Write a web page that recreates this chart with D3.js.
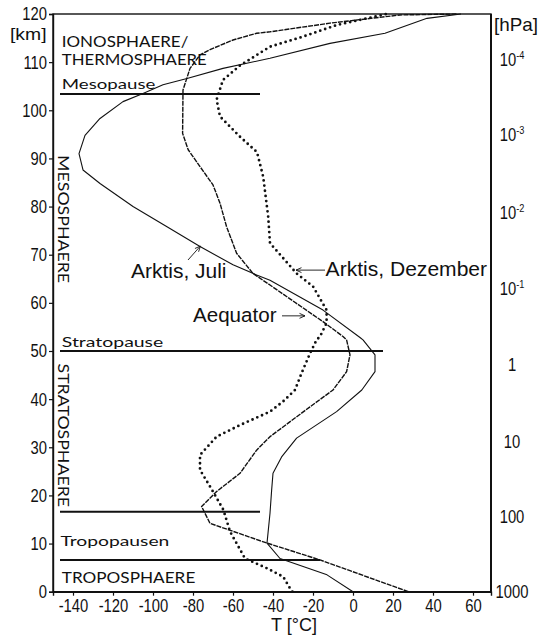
<!DOCTYPE html>
<html>
<head>
<meta charset="utf-8">
<script src="https://cdn.jsdelivr.net/npm/d3@7"></script>
<style>
  html, body { margin: 0; padding: 0; background: #fff; }
  svg { display: block; }
  .num { font-family: "Liberation Sans", Arial, sans-serif; }
  .sans { font-family: "Liberation Sans", Arial, sans-serif; }
  .zone { font-family: Lato, "DejaVu Sans", sans-serif; }
</style>
</head>
<body>
<svg id="chart" width="541" height="635"></svg>
<script>
// Temperature profiles: [temperature °C, altitude km]
const arktisJuli = [
  [0, 0], [-13, 3.5], [-36.5, 6.9], [-43, 10.1], [-41.5, 16.3], [-40.7, 21], [-40, 24.6],
  [-35.7, 28], [-28.2, 31.9], [-8.2, 37.4], [4.4, 41.9], [11, 45.7], [11, 49.2], [5, 52.3],
  [3.5, 52.8], [-15, 58.5], [-41.5, 64.7], [-48.2, 65.8], [-60, 67.9], [-76.5, 71.7],
  [-93, 75.8], [-110, 80], [-126.5, 84.8], [-135, 87.6], [-137, 91], [-134, 94.8],
  [-126.5, 98.3], [-115, 101.8], [-105, 103.5], [-95, 105.3], [-83, 106.6], [-65, 108.7],
  [-41.5, 110.8], [-11.5, 113.9], [16, 116], [37, 119.1], [54, 120]
];
const aequator = [
  [27.7, 0], [-16.5, 6.6], [-43, 10.1], [-71.5, 14.2], [-75.7, 17.7], [-68.2, 20.8],
  [-56.5, 24.6], [-48.2, 29.4], [-41.5, 32.2], [-21.5, 38.4], [-10, 41.9], [-3.2, 45.7],
  [-1.5, 49.2], [-3.2, 52.3], [-5, 53], [-14, 55.8], [-41.5, 63.7], [-50, 66.1],
  [-58.2, 70.3], [-63.2, 75.8], [-66.5, 80.7], [-70, 84.5], [-76.5, 88.3], [-82.4, 91.8],
  [-85.2, 95.2], [-85, 104.2], [-81.5, 108.7], [-76.5, 111.5], [-71.5, 112.6], [-60, 114.6],
  [-48.2, 116], [-41.5, 116.3], [-11.5, 118.1], [23.5, 119.8], [52, 120]
];
const arktisDezember = [
  [-30.3, 0], [-31.5, 0.7], [-34.9, 3.1], [-43.2, 4.9], [-54, 6.9], [-61.5, 12.5],
  [-64.8, 17], [-71, 21.5], [-76.5, 25.3], [-76.5, 28.4], [-68.2, 32.2], [-56.5, 34.6],
  [-41.5, 37.4], [-35, 39.5], [-29, 41.9], [-25.7, 45.4], [-21.5, 49.5], [-18.2, 52.3],
  [-16.5, 53], [-13.2, 55.8], [-13.2, 58.5], [-20, 63.4], [-28.2, 66.1], [-41.5, 72.4],
  [-42.4, 77.9], [-44.9, 86.2], [-48, 91.3], [-56.5, 94.5], [-66.5, 98.7], [-68.2, 102.2],
  [-65, 106.3], [-56.5, 109.3], [-41.5, 113.2], [-25, 115.3], [-8.2, 117.7], [16.8, 120]
];

// Axis ticks
const kmTicks = [0, 10, 20, 30, 40, 50, 60, 70, 80, 90, 100, 110, 120];
const tempTicks = [-140, -120, -100, -80, -60, -40, -20, 0, 20, 40, 60];

// Pressure scale on the right (altitude in km where each label sits)
const pressureKm   = [110.6, 95, 78.9, 63, 47.3, 31.3, 15.6, 0];
const pressureBase = ["10", "10", "10", "10", "1", "10", "100", "1000"];
const pressureExp  = ["-4", "-3", "-2", "-1", "", "", "", ""];

// Layer boundaries: [altitude km, T from, T to]
const boundaries = [
  [103.4, -146.5, -46.5],
  [50, -146.5, 15],
  [16.6, -146.5, -46.5],
  [6.6, -146.5, -16.5]
];

// Layer names: [text, T, km, size, width, rotated]
const zoneLabels = [
  ["IONOSPHAERE/", -145.6, 113.2, 15.5, 126.5, false],
  ["THERMOSPHAERE", -145.6, 109.5, 15.5, 145, false],
  ["Mesopause", -145.6, 104.4, 13.5, 93.5, false],
  ["Stratopause", -145.6, 50.8, 13.5, 101.5, false],
  ["Tropopausen", -146.3, 9.4, 14, 109, false],
  ["TROPOSPHAERE", -145.6, 1.75, 14.5, 133.5, false],
  ["MESOSPHAERE", -147.3, 90.7, 15.5, 128, true],
  ["STRATOSPHAERE", -147.3, 47.4, 15.5, 143.5, true]
];

// Curve names with leader arrows: [text, T, km, width, arrowFrom[T,km], arrowTo[T,km]]
const curveLabels = [
  ["Arktis, Juli", -111, 65.2, 95.5, [-82.5, 68.9], [-76.3, 71.8]],
  ["Arktis, Dezember", -13.7, 65.5, 161.5, [-14, 66.8], [-28.5, 66.8]],
  ["Aequator", -80, 56.1, 83.5, [-35.5, 57.3], [-24, 57.3]]
];

const W = 541, H = 635;
const x = d3.scaleLinear().domain([-150, 69]).range([53, 491]);
const y = d3.scaleLinear().domain([0, 120]).range([591.7, 14]);
const ink = "#111";
const squeeze = 0.8;   // condensed look for numerals
const numSize = 18.5;

const svg = d3.select("#chart");

// Frame
svg.append("rect")
  .attr("x", x(-150)).attr("y", y(120))
  .attr("width", x(69) - x(-150)).attr("height", y(0) - y(120))
  .attr("fill", "none").attr("stroke", ink).attr("stroke-width", 1.4);
svg.append("line")
  .attr("x1", x(69)).attr("x2", x(69)).attr("y1", y(120)).attr("y2", y(0))
  .attr("stroke", ink).attr("stroke-width", 2);

// Left altitude axis
const yAxis = d3.axisLeft(y).tickValues(kmTicks).tickSize(4).tickPadding(3);
const gy = svg.append("g").attr("transform", `translate(${x(-150)},0)`).call(yAxis);
gy.select(".domain").attr("stroke", ink).attr("stroke-width", 1.4);
gy.selectAll(".tick line").attr("stroke", ink).attr("stroke-width", 1.2);
gy.selectAll(".tick text").attr("class", "num").attr("font-size", numSize).attr("fill", ink)
  .attr("x", -6 / squeeze).attr("transform", `scale(${squeeze},1)`);

// Bottom temperature axis
const xAxis = d3.axisBottom(x).tickValues(tempTicks).tickSize(4).tickPadding(3)
  .tickFormat(d => d < 0 ? "-" + Math.abs(d) : String(d));
const gx = svg.append("g").attr("transform", `translate(0,${y(0)})`).call(xAxis);
gx.select(".domain").attr("stroke", ink).attr("stroke-width", 1.4);
gx.selectAll(".tick line").attr("stroke", ink).attr("stroke-width", 1.2);
gx.selectAll(".tick text").attr("class", "num").attr("font-size", numSize).attr("fill", ink)
  .attr("transform", `scale(${squeeze},1)`);

// Axis titles
svg.append("text").attr("class", "sans").attr("x", 46.5).attr("y", 40)
  .attr("text-anchor", "end").attr("font-size", 17).attr("fill", ink)
  .attr("textLength", 36.5).attr("lengthAdjust", "spacingAndGlyphs").text("[km]");
svg.append("text").attr("class", "sans").attr("x", 494).attr("y", 31)
  .attr("font-size", 18.5).attr("fill", ink)
  .attr("textLength", 44).attr("lengthAdjust", "spacingAndGlyphs").text("[hPa]");
svg.append("text").attr("class", "sans").attr("x", 294).attr("y", 631)
  .attr("text-anchor", "middle").attr("font-size", 18).attr("fill", ink).text("T [°C]");

// Pressure labels
pressureKm.forEach((km, i) => {
  const t = svg.append("text").attr("class", "num")
    .attr("transform", `translate(512,${y(km)}) scale(${squeeze},1)`)
    .attr("dy", "0.36em")
    .attr("text-anchor", "middle").attr("font-size", numSize).attr("fill", ink);
  t.append("tspan").text(pressureBase[i]);
  if (pressureExp[i]) {
    t.append("tspan").attr("font-size", 11.5).attr("dy", -7).text(pressureExp[i]);
  }
});

// Layer boundaries
svg.append("g").selectAll("line").data(boundaries).join("line")
  .attr("x1", d => x(d[1])).attr("x2", d => x(d[2]))
  .attr("y1", d => y(d[0])).attr("y2", d => y(d[0]))
  .attr("stroke", ink).attr("stroke-width", 2);

// Layer names
zoneLabels.forEach(([txt, t, km, size, w, rot]) => {
  const el = svg.append("text").attr("class", "zone")
    .attr("font-size", size).attr("fill", ink)
    .attr("textLength", w).attr("lengthAdjust", "spacingAndGlyphs").text(txt);
  if (rot) {
    el.attr("transform", `translate(${x(t)},${y(km)}) rotate(90)`);
  } else {
    el.attr("x", x(t)).attr("y", y(km));
  }
});

// Profiles
const line = d3.line().x(d => x(d[0])).y(d => y(d[1]));
svg.append("path").datum(arktisJuli).attr("d", line)
  .attr("fill", "none").attr("stroke", ink).attr("stroke-width", 1.1)
  .attr("stroke-linejoin", "round");
svg.append("path").datum(aequator).attr("d", line)
  .attr("fill", "none").attr("stroke", ink).attr("stroke-width", 1.4)
  .attr("stroke-dasharray", "5 1").attr("stroke-linejoin", "round");
svg.append("path").datum(arktisDezember).attr("d", line)
  .attr("fill", "none").attr("stroke", ink).attr("stroke-width", 2.8)
  .attr("stroke-dasharray", "0 5.2").attr("stroke-linecap", "round");

// Curve names and leader arrows
curveLabels.forEach(([txt, t, km, w, from, to]) => {
  svg.append("text").attr("class", "sans").attr("x", x(t)).attr("y", y(km))
    .attr("font-size", 20.5).attr("fill", ink)
    .attr("textLength", w).attr("lengthAdjust", "spacingAndGlyphs").text(txt);
  const x1 = x(from[0]), y1 = y(from[1]), x2 = x(to[0]), y2 = y(to[1]);
  svg.append("line").attr("x1", x1).attr("y1", y1).attr("x2", x2).attr("y2", y2)
    .attr("stroke", ink).attr("stroke-width", 0.9);
  const ang = Math.atan2(y2 - y1, x2 - x1), L = 6, A = 0.42;
  const p1 = [x2 - L * Math.cos(ang - A), y2 - L * Math.sin(ang - A)];
  const p2 = [x2 - L * Math.cos(ang + A), y2 - L * Math.sin(ang + A)];
  svg.append("path")
    .attr("d", `M${p1[0]},${p1[1]}L${x2},${y2}L${p2[0]},${p2[1]}`)
    .attr("fill", "none").attr("stroke", ink).attr("stroke-width", 0.9);
});
</script>
</body>
</html>
